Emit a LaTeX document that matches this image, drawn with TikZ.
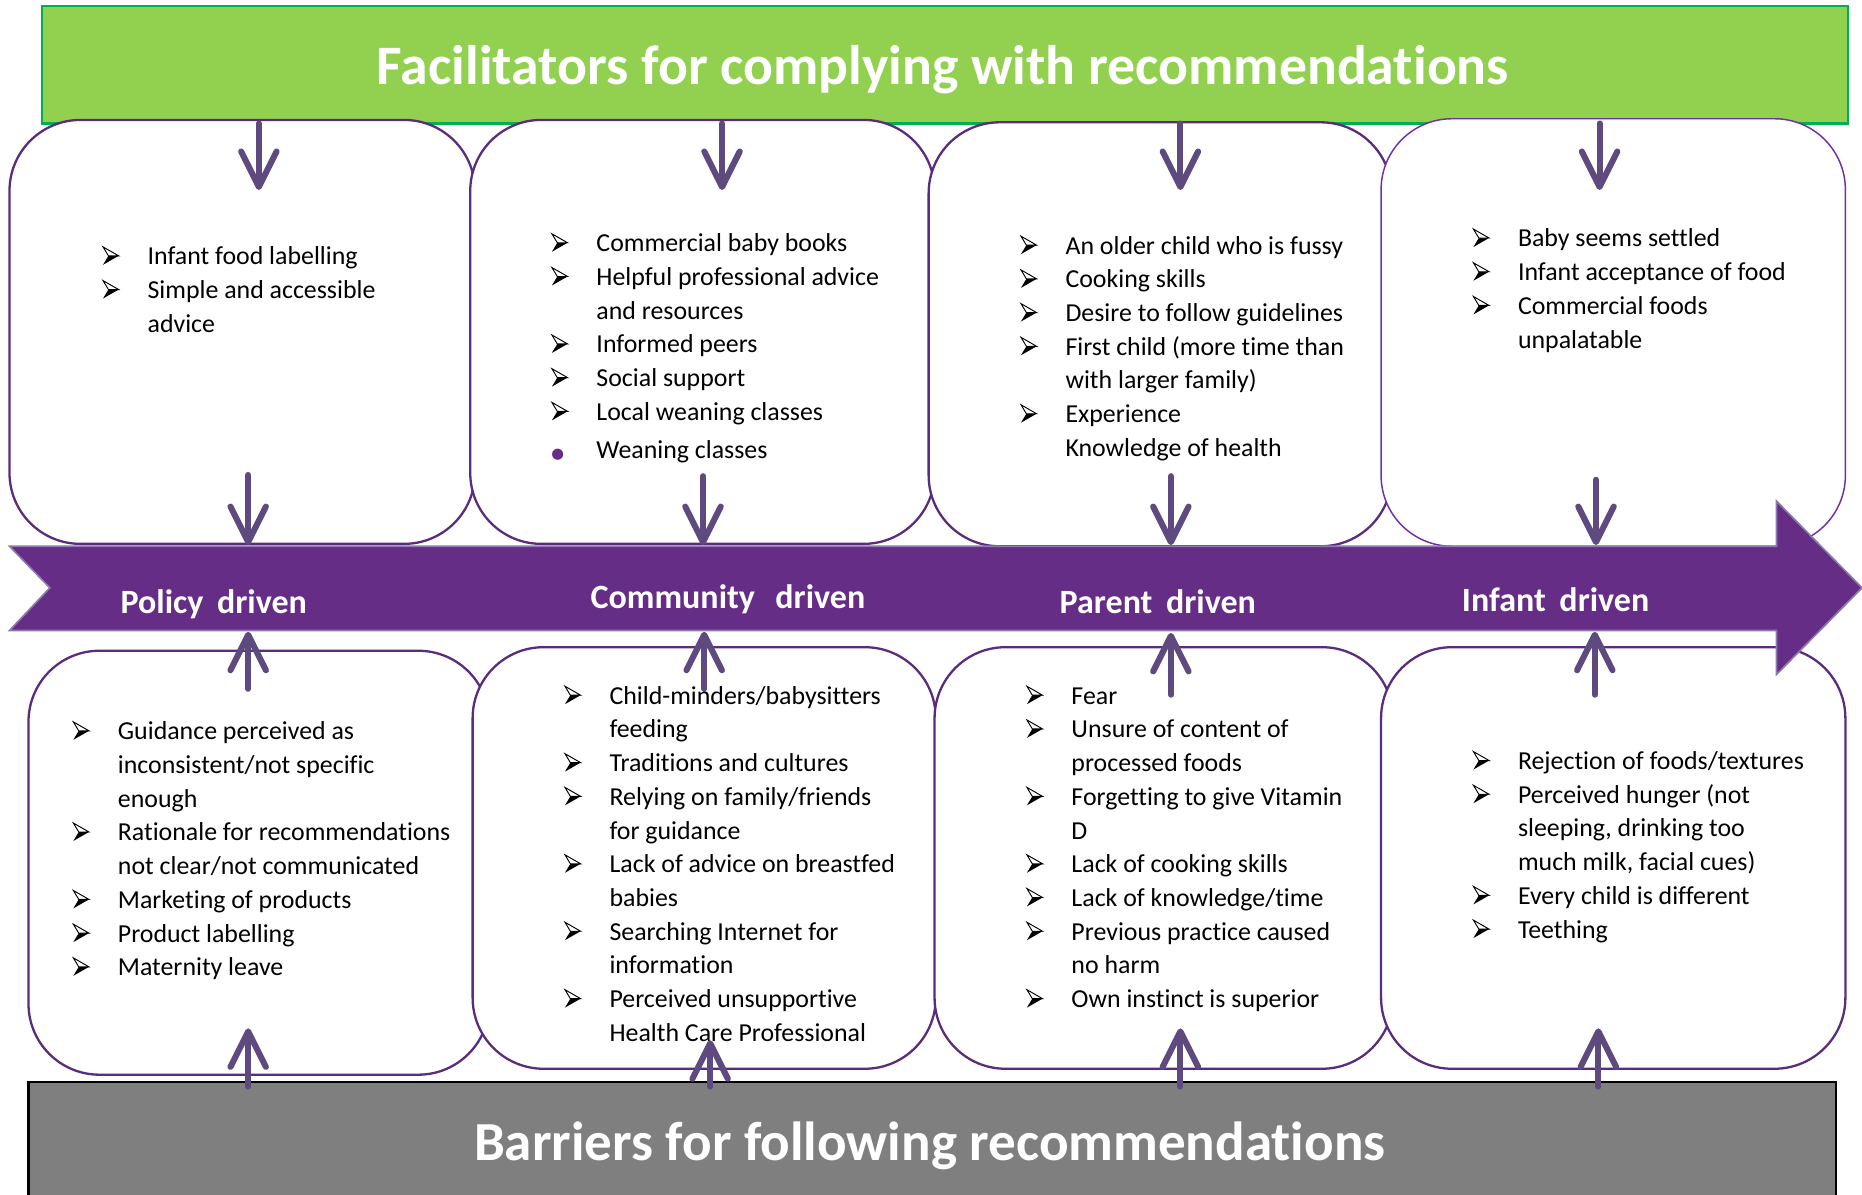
\documentclass[tikz,border=0pt]{standalone}
\usepackage{fontspec}
\setmainfont{Carlito}[Ligatures=NoCommon]
\newfontfamily\dejavu{DejaVu Sans}
\usetikzlibrary{arrows.meta,fit}
\definecolor{hdrgreen}{HTML}{92D050}
\definecolor{hdrgreenline}{HTML}{00B050}
\definecolor{boxline}{HTML}{5B2C7B}
\definecolor{boxlinelight}{HTML}{7030A0}
\definecolor{bigarrow}{HTML}{652D86}
\definecolor{bigarrowedge}{HTML}{8C7AAE}
\definecolor{connclr}{HTML}{5E4A7E}
\definecolor{footgray}{HTML}{7F7F7F}
\newcommand{\arrbul}{\tikz[x=1pt,y=1pt,baseline=0pt]{%
  \fill[black] (0,0) -- (7.5,4.3) -- (2.6,4.3) -- cycle;
  \draw[black,line width=0.45pt,line join=miter,fill=white] (0,8.6) -- (7.5,4.3) -- (2.6,4.3) -- cycle;}}
\newcommand{\dotbul}{\textcolor{bigarrow}{\dejavu\fontsize{7}{7}\selectfont\char"25CF}}
\newcommand{\blist}[1]{\fontsize{12.4}{16.16}\selectfont\begin{tabular}[t]{@{}p{21.6pt}@{}l@{}}#1\end{tabular}}
\begin{document}
\begin{tikzpicture}[x=0.02cm,y=-0.02cm,
  card/.style={draw=boxline,line width=1.1pt,rounded corners=34pt,fill=white,inner sep=0pt},
  cardlight/.style={card,draw=boxlinelight,line width=0.7pt},
  connarrow/.style={draw=connclr,line width=2.9pt,line cap=round,
     -{Straight Barb[length=17pt,width=17pt,line cap=round,line join=round]}},
  listtext/.style={anchor=base west,inner sep=0pt,align=left},
  bartitle/.style={text=white,anchor=base,inner sep=0pt},
  driverlabel/.style={text=white,font=\bfseries\fontsize{16.3}{17}\selectfont,anchor=base,inner sep=0pt}
]
\useasboundingbox (0,0) rectangle (1568,1006);

% header
\node[fill=hdrgreen,draw=hdrgreenline,line width=1pt,inner sep=0pt,fit={(35,5) (1556,104)}] (hdr) {};
\node[bartitle,font=\bfseries\fontsize{26.7}{27}\selectfont] (hdrtitle) at (794,71) {Facilitators for complying with recommendations};

% top (facilitator) boxes
\node[card,fit={(8,101) (400,458)}] (f1) {};
\node[card,fit={(396,101) (787,458)}] (f2) {};
\node[card,fit={(782,103) (1172,460)}] (f3) {};
\node[cardlight,fit={(1163,100) (1554,460)}] (f4) {};

% bottom (barrier) boxes
\node[card,fit={(24,548) (412,905)}] (b1) {};
\node[card,fit={(398,545) (788,900)}] (b2) {};
\node[card,fit={(787,545) (1173,900)}] (b3) {};
\node[card,fit={(1163,545) (1554,900)}] (b4) {};

% footer
\node[fill=footgray,draw=black,line width=1pt,inner sep=0pt,fit={(24,911) (1546,1015)}] (ftr) {};
\node[bartitle,font=\bfseries\fontsize{26.4}{27}\selectfont] (ftrtitle) at (783,977) {Barriers for following recommendations};

% big arrow
\draw[fill=bigarrow,draw=bigarrowedge,line width=0.8pt]
  (8,460) -- (1496,460) -- (1496,422) -- (1568,495) -- (1496,568) -- (1496,531)
  -- (8,531) -- (42,495) -- cycle;
\node[driverlabel] (lpolicy) at (180,517) {Policy\hspace{0.4em}driven};
\node[driverlabel] (lcomm) at (613,512) {Community\hspace{0.6em}driven};
\node[driverlabel] (lparent) at (975,517) {Parent\hspace{0.4em}driven};
\node[driverlabel] (linfant) at (1310,515) {Infant\hspace{0.4em}driven};

% connector end points
\coordinate (h1) at (218,104); \coordinate (t1) at (218,160);
\coordinate (h2) at (608,104); \coordinate (t2) at (608,160);
\coordinate (h3) at (994,104); \coordinate (t3) at (994,160);
\coordinate (h4) at (1347,104); \coordinate (t4) at (1347,160);
\coordinate (d1) at (209,400); \coordinate (e1) at (209,459);
\coordinate (d2) at (592,401); \coordinate (e2) at (592,459);
\coordinate (d3) at (986,401); \coordinate (e3) at (986,459);
\coordinate (d4) at (1344,404); \coordinate (e4) at (1344,459);
\coordinate (u1) at (209,580); \coordinate (v1) at (209,532);
\coordinate (u2) at (593,580); \coordinate (v2) at (593,532);
\coordinate (u3) at (986,585); \coordinate (v3) at (986,533);
\coordinate (u4) at (1343,585); \coordinate (v4) at (1343,532);
\coordinate (g1) at (209,915); \coordinate (k1) at (209,866);
\coordinate (g2) at (598,915); \coordinate (k2) at (598,876);
\coordinate (g3) at (994,915); \coordinate (k3) at (994,866);
\coordinate (g4) at (1346,915); \coordinate (k4) at (1346,866);
\foreach \a/\b in {h1/t1,h2/t2,h3/t3,h4/t4,d1/e1,d2/e2,d3/e3,d4/e4,u1/v1,u2/v2,u3/v3,u4/v4,g1/k1,g2/k2,g3/k3,g4/k4}
  \draw[connarrow] (\a) -- (\b);

% facilitator lists
\node[listtext] (tf1) at (86,223) {\blist{
\arrbul & Infant food labelling\\
\arrbul & Simple and accessible\\
 & advice}};
\node[listtext] (tf2) at (464,212) {\blist{
\arrbul & Commercial baby books\\
\arrbul & Helpful professional advice\\
 & and resources\\
\arrbul & Informed peers\\
\arrbul & Social support\\
\arrbul & Local weaning classes\\[2pt]
\dotbul & Weaning classes}};
\node[listtext] (tf3) at (859,214) {\blist{
\arrbul & An older child who is fussy\\
\arrbul & Cooking skills\\
\arrbul & Desire to follow guidelines\\
\arrbul & First child (more time than\\
 & with larger family)\\
\arrbul & Experience\\
 & Knowledge of health}};
\node[listtext] (tf4) at (1240,208) {\blist{
\arrbul & Baby seems settled\\
\arrbul & Infant acceptance of food\\
\arrbul & Commercial foods\\
 & unpalatable}};

% barrier lists
\node[listtext] (tb1) at (61,623) {\blist{
\arrbul & Guidance perceived as\\
 & inconsistent/not specific\\
 & enough\\
\arrbul & Rationale for recommendations\\
 & not clear/not communicated\\
\arrbul & Marketing of products\\
\arrbul & Product labelling\\
\arrbul & Maternity leave}};
\node[listtext] (tb2) at (475,593) {\blist{
\arrbul & Child-minders/babysitters\\
 & feeding\\
\arrbul & Traditions and cultures\\
\arrbul & Relying on family/friends\\
 & for guidance\\
\arrbul & Lack of advice on breastfed\\
 & babies\\
\arrbul & Searching Internet for\\
 & information\\
\arrbul & Perceived unsupportive\\
 & Health Care Professional}};
\node[listtext] (tb3) at (864,593) {\blist{
\arrbul & Fear\\
\arrbul & Unsure of content of\\
 & processed foods\\
\arrbul & Forgetting to give Vitamin\\
 & D\\
\arrbul & Lack of cooking skills\\
\arrbul & Lack of knowledge/time\\
\arrbul & Previous practice caused\\
 & no harm\\
\arrbul & Own instinct is superior}};
\node[listtext] (tb4) at (1240,648) {\blist{
\arrbul & Rejection of foods/textures\\
\arrbul & Perceived hunger (not\\
 & sleeping, drinking too\\
 & much milk, facial cues)\\
\arrbul & Every child is different\\
\arrbul & Teething}};
\end{tikzpicture}
\end{document}
